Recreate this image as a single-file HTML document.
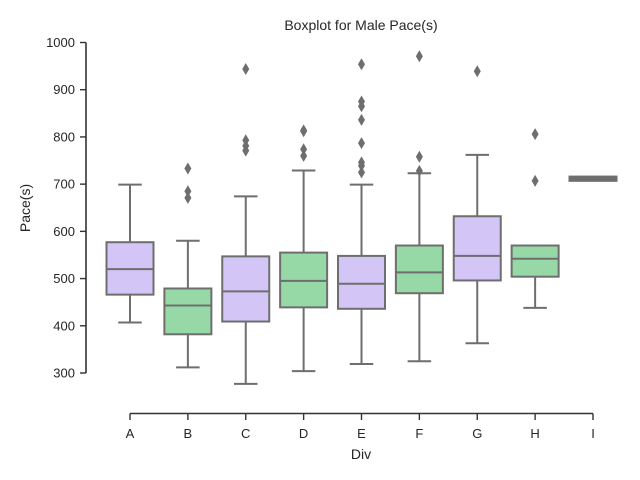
<!DOCTYPE html>
<html><head><meta charset="utf-8"><style>
body{margin:0;background:#fff}
svg{display:block;font-family:"Liberation Sans",sans-serif}
</style></head><body>
<svg id="chart" width="640" height="480" viewBox="0 0 640 480" xmlns="http://www.w3.org/2000/svg">
<text x="361" y="30" font-size="14" text-anchor="middle" fill="#262626">Boxplot for Male Pace(s)</text>
<text transform="translate(30,208) rotate(-90)" font-size="14" text-anchor="middle" fill="#262626">Pace(s)</text>
<text x="361" y="459" font-size="14" text-anchor="middle" fill="#262626">Div</text>
<g id="axes"></g>
<g id="boxes"></g>
</svg>
<script>
const categories=["A","B","C","D","E","F","G","H","I"];
const whiskerLow=[407,312,277,304,319,325,363,438,712];
const q1=[466,382,409,439,436,469,496,504,707];
const median=[520,443,473,495,489,513,548,542,712];
const q3=[577,479,547,555,548,570,632,570,716];
const whiskerHigh=[699,580,674,729,699,723,762,570,712];
const outliers=[[],[733,685,671],[944,793,781,771],[814,812,774,760],[954,875,865,836,787,746,739,725],[971,758,728],[939],[806,707],[]];
const yTicks=[300,400,500,600,700,800,900,1000];
const fills=["#d3c6f6","#97d9a6"];
const edge="#6e6e6e";
const NS="http://www.w3.org/2000/svg";
const y=v=>42.5+(1000-v)*(330.5/700);
const x=i=>130+i*(593-130)/8;
function mk(tag,attrs,parent){const e=document.createElementNS(NS,tag);for(const k in attrs)e.setAttribute(k,attrs[k]);parent.appendChild(e);return e;}
const ax=document.getElementById('axes'),bx=document.getElementById('boxes');
let yl=mk('line',{x1:86,x2:86,y1:y(1000),y2:y(300),stroke:'#333',"stroke-width":1.6},ax);


yTicks.forEach(t=>{
 const tk=mk('line',{x1:80,x2:86,y1:y(t),y2:y(t),stroke:'#333',"stroke-width":1.4},ax);
 
 
 const tx=mk('text',{x:75,y:y(t)+4.5,"font-size":13,"text-anchor":"end",fill:'#262626'},ax);
 tx.textContent=t;
 
 
});
let xl=mk('line',{x1:x(0),x2:x(8),y1:413.5,y2:413.5,stroke:'#333',"stroke-width":1.6},ax);


categories.forEach((c,i)=>{
 const tk=mk('line',{x1:x(i),x2:x(i),y1:413.5,y2:420,stroke:'#333',"stroke-width":1.4},ax);
 
 
 const tx=mk('text',{x:x(i),y:438,"font-size":13,"text-anchor":"middle",fill:'#262626'},ax);
 tx.textContent=c;
 
 
});
const w=47;
categories.forEach((c,i)=>{
 const g=mk('g',{},bx);
 
 
 const cx=x(i);
 mk('line',{x1:cx,x2:cx,y1:y(q3[i]),y2:y(whiskerHigh[i]),stroke:edge,"stroke-width":2},g);
 mk('line',{x1:cx,x2:cx,y1:y(q1[i]),y2:y(whiskerLow[i]),stroke:edge,"stroke-width":2},g);
 mk('line',{x1:cx-w/4,x2:cx+w/4,y1:y(whiskerHigh[i]),y2:y(whiskerHigh[i]),stroke:edge,"stroke-width":2},g);
 mk('line',{x1:cx-w/4,x2:cx+w/4,y1:y(whiskerLow[i]),y2:y(whiskerLow[i]),stroke:edge,"stroke-width":2},g);
 mk('rect',{x:cx-w/2,y:y(q3[i]),width:w,height:Math.max(y(q1[i])-y(q3[i]),1),fill:(i===8?edge:fills[i%2]),stroke:edge,"stroke-width":2},g);
 mk('line',{x1:cx-w/2,x2:cx+w/2,y1:y(median[i]),y2:y(median[i]),stroke:edge,"stroke-width":2},g);
 outliers[i].forEach(v=>{
  const p=mk('polygon',{points:`${cx},${y(v)-6} ${cx+3.5},${y(v)} ${cx},${y(v)+6} ${cx-3.5},${y(v)}`,fill:edge},g);
  
  
 });
});
</script>
</body></html>
